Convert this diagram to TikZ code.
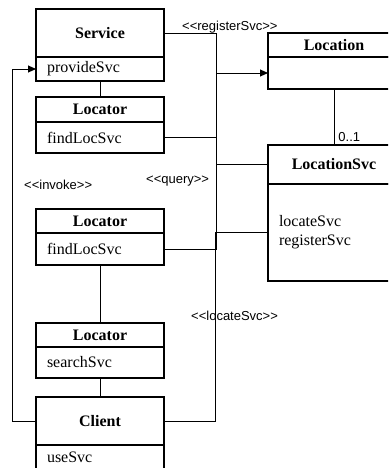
\documentclass[tikz,border=0pt]{standalone}
\usepackage{fontspec}
\setmainfont{Liberation Serif}
\newfontfamily\stereofont{Liberation Sans}[Ligatures=TeXOff]
\usetikzlibrary{arrows.meta,positioning}

\tikzset{
  clsname/.style={draw, line width=1.3pt, outer sep=0pt, inner sep=2pt, minimum width=128pt, minimum height=24pt, font=\fontsize{16}{19}\selectfont\bfseries},
  clsbody/.style={draw, line width=1.3pt, outer sep=0pt, inner xsep=11pt, inner ysep=2pt, text width=106pt, align=left, minimum height=32pt, font=\fontsize{16}{19}\selectfont},
  link/.style={line width=0.9pt},
  stereo/.style={inner sep=0pt, font=\stereofont\fontsize{13}{15}\selectfont},
}

\begin{document}
\begin{tikzpicture}[x=1pt, y=-1pt, >={Triangle[length=8pt,width=7pt]}]
  \useasboundingbox (0,0) rectangle (388,468);
  \clip (0,0) rectangle (388,468);
  % left column
  \node[clsname, minimum height=48pt] (svc) at (100,33) {Service};
  \node[clsbody, minimum height=24pt, below=0pt of svc] (svcops) {provideSvc};
  \node[clsname, minimum height=25pt, below=16pt of svcops] (loc1) {Locator};
  \node[clsbody, minimum height=31pt, below=0pt of loc1] (loc1ops) {findLocSvc};
  \node[clsname, below=56pt of loc1ops] (loc2) {Locator};
  \node[clsbody, below=0pt of loc2] (loc2ops) {findLocSvc};
  \node[clsname, below=58pt of loc2ops] (loc3) {Locator};
  \node[clsbody, minimum height=31pt, below=0pt of loc3] (loc3ops) {searchSvc};
  \node[clsname, minimum height=48pt, below=19pt of loc3ops] (client) {Client};
  \node[clsbody, minimum height=24pt, below=0pt of client] (clientops) {useSvc};
  % right column
  \node[clsname, minimum width=132pt] (locn) at (334,45) {Location};
  \node[clsbody, text width=110pt, below=0pt of locn] (locnops) {};
  \node[clsname, minimum width=132pt, minimum height=39pt, below=56pt of locnops] (lsvc) {LocationSvc};
  \node[clsbody, text width=110pt, minimum height=97pt, below=0pt of lsvc] (lsvcops) {locateSvc\\registerSvc};
  % connectors
  \coordinate (busA) at (216,0);
  \coordinate (busB) at (215,0);
  \coordinate (railL) at (12,0);
  \draw[link] (svc.east) -- (svc.east -| busA) -- (busA |- loc2ops.east) -- (loc2ops.east);
  \draw[link, ->] (busA |- locnops.west) -- (locnops.west);
  \draw[link] (loc1ops.east) -- (loc1ops.east -| busA);
  \draw[link] (lsvc.west) -- (lsvc.west -| busA);
  \draw[link] (lsvcops.west) -- (lsvcops.west -| busB) |- (client.east);
  \draw[link, ->] (client.west) -| (railL |- svcops.west) -- (svcops.west);
  \draw[link] (svcops.south) -- (loc1.north);
  \draw[link] (loc2ops.south) -- (loc3.north);
  \draw[link] (loc3ops.south) -- (client.north);
  \draw[link] (locnops.south) -- node[stereo, pos=1, anchor=south west, xshift=4pt, yshift=3pt] (mult) {0..1} (lsvc.north);
  % stereotypes
  \node[stereo, anchor=west] (regsvc) at (182,27) {<<registerSvc>>};
  \node[stereo, anchor=west] (query) at (146,181) {<<query>>};
  \node[stereo, anchor=west] (invoke) at (24,185) {<<invoke>>};
  \node[stereo, anchor=west] (locsvc) at (191,316) {<<locateSvc>>};
\end{tikzpicture}
\end{document}
